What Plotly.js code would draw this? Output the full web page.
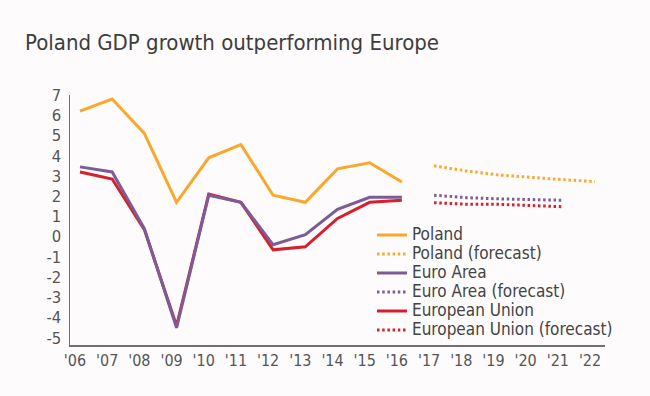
<!DOCTYPE html>
<html>
<head>
<meta charset="utf-8">
<script src="https://cdn.plot.ly/plotly-3.0.1.min.js"></script>
<style>html,body{margin:0;padding:0;background:#fdfbfc;}</style>
</head>
<body>
<div id="chart" style="width:650px;height:396px;"></div>
<script>
var years = [2006, 2007, 2008, 2009, 2010, 2011, 2012, 2013, 2014, 2015, 2016];
var poland = [6.2, 6.8, 5.1, 1.7, 3.9, 4.55, 2.05, 1.7, 3.35, 3.65, 2.7];
var euroArea = [3.45, 3.2, 0.4, -4.5, 2.05, 1.7, -0.4, 0.1, 1.35, 1.95, 1.95];
var europeanUnion = [3.2, 2.85, 0.35, -4.4, 2.1, 1.7, -0.65, -0.5, 0.9, 1.7, 1.8];

var polandForecastYears = [2017, 2018, 2019, 2020, 2021, 2022];
var polandForecast = [3.5, 3.25, 3.05, 2.92, 2.82, 2.72];
var europeForecastYears = [2017, 2018, 2019, 2020, 2021];
var euroAreaForecast = [2.05, 1.93, 1.87, 1.82, 1.8];
var europeanUnionForecast = [1.68, 1.6, 1.6, 1.53, 1.48];

var tickYears = [2006, 2007, 2008, 2009, 2010, 2011, 2012, 2013, 2014, 2015, 2016, 2017, 2018, 2019, 2020, 2021, 2022];
var tickLabels = ["'06", "'07", "'08", "'09", "'10", "'11", "'12", "'13", "'14", "'15", "'16", "'17", "'18", "'19", "'20", "'21", "'22"];
var yTicks = [7, 6, 5, 4, 3, 2, 1, 0, -1, -2, -3, -4, -5];
var yTickLabels = ['7', '6', '5', '4', '3', '2', '1', '0', '-1', '-2', '-3', '-4', '-5'];

var cPoland = '#f8a92c', cEA = '#7a5c96', cEU = '#d81f2e';
var FONT = 'DejaVu Sans Condensed, Roboto, sans-serif';
var DOT = '2.5px,2.7px';
function nm(s) { return '<span style="font-size:17px">' + s + '</span>'; }

var traces = [
  {x: years, y: poland, name: nm('Poland'), legendrank: 1, mode: 'lines', line: {color: cPoland, width: 3}},
  {x: polandForecastYears, y: polandForecast, name: nm('Poland (forecast)'), legendrank: 2, mode: 'lines', line: {color: cPoland, width: 3, dash: DOT}},
  {x: years, y: europeanUnion, name: nm('European Union'), legendrank: 5, mode: 'lines', line: {color: cEU, width: 3}},
  {x: europeForecastYears, y: europeanUnionForecast, name: nm('European Union (forecast)'), legendrank: 6, mode: 'lines', line: {color: cEU, width: 3, dash: DOT}},
  {x: years, y: euroArea, name: nm('Euro Area'), legendrank: 3, mode: 'lines', line: {color: cEA, width: 3}},
  {x: europeForecastYears, y: euroAreaForecast, name: nm('Euro Area (forecast)'), legendrank: 4, mode: 'lines', line: {color: cEA, width: 3, dash: DOT}}
];

var layout = {
  width: 650, height: 396,
  paper_bgcolor: '#fdfbfc', plot_bgcolor: '#fdfbfc',
  font: {family: FONT, color: '#444444', size: 16},
  margin: {l: 70, r: 45, t: 95, b: 51},
  title: {text: 'Poland GDP growth outperforming Europe', font: {family: FONT, size: 22, color: '#3d3d3d'},
          xref: 'container', x: 25/650, xanchor: 'left', yref: 'container', y: 1 - 42/396, yanchor: 'middle'},
  showlegend: true,
  legend: {traceorder: 'normal', x: 0.5645, y: 0.498, xanchor: 'left', yanchor: 'top',
           bgcolor: 'rgba(0,0,0,0)', font: {size: 12, color: '#444444', family: FONT}, itemwidth: 30},
  xaxis: {range: [2005.69, 2022.31], tickvals: tickYears, ticktext: tickLabels, showgrid: false, zeroline: false,
          showline: true, linecolor: '#6f6f6f', linewidth: 1.5, ticks: '', ticklabelshift: -5,
          tickfont: {size: 16, color: '#555555'}},
  yaxis: {range: [-5.35, 7], tickvals: yTicks, ticktext: yTickLabels, showgrid: false, zeroline: false,
          showline: true, linecolor: '#6f6f6f', linewidth: 1.5, ticks: '', ticklabelstandoff: 4,
          tickfont: {size: 16.5, color: '#555555'}}
};
Plotly.newPlot('chart', traces, layout, {displayModeBar: false, staticPlot: true});
</script>
</body>
</html>
